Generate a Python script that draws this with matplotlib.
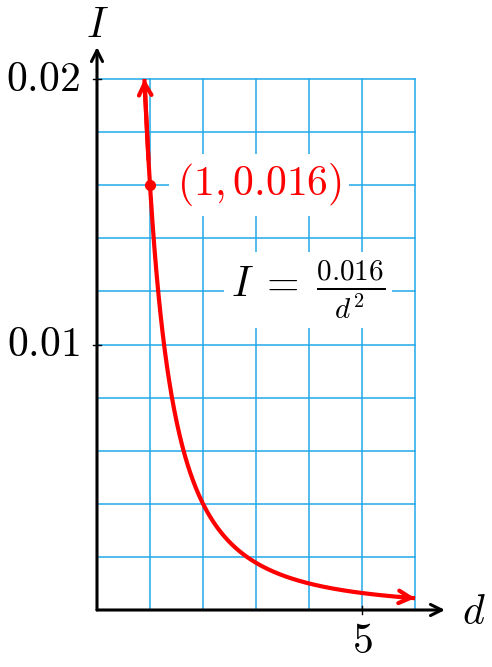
import numpy as np
import matplotlib
matplotlib.use("Agg")
import matplotlib.pyplot as plt

plt.rcParams['mathtext.fontset'] = 'cm'
plt.rcParams['font.family'] = ['DejaVu Serif']

# Data
k = 0.016
d_min = np.sqrt(k / 0.02)
d_max = 6
point_d = [1]
point_I = [0.016]
x_ticks = [5]
x_tick_labels = ['$5$']
y_ticks = [0.01, 0.02]
y_tick_labels = ['$0.01$', '$0.02$']
grid_x = [1, 2, 3, 4, 5, 6]
grid_y = [0.002 * i for i in range(1, 11)]

W, H = 492, 667
fig = plt.figure(figsize=(W / 100, H / 100), dpi=100)
ax = fig.add_axes([0, 0, 1, 1])
ax.set_axis_off()

def px2d(px):
    return (px - 97) / 53.0

def py2I(py):
    return (610 - py) / 26550.0

ax.set_xlim(px2d(0), px2d(W))
ax.set_ylim(py2I(H), py2I(0))

grid_c = '#22a8ea'
for gx in grid_x:
    ax.plot([gx, gx], [0, 0.02], color=grid_c, lw=1.1, zorder=1)
for gy in grid_y:
    ax.plot([0, 6], [gy, gy], color=grid_c, lw=1.1, zorder=1)

ax_ap = dict(arrowstyle='->,head_length=0.8,head_width=0.4', lw=2.2, color='black',
             shrinkA=0, shrinkB=0)
ax.annotate('', xy=(px2d(445), 0), xytext=(0, 0), arrowprops=ax_ap, zorder=3)
ax.annotate('', xy=(0, py2I(47)), xytext=(0, 0), arrowprops=ax_ap, zorder=3)

fs = 30
tick_len_d = 4 / 53.0
tick_len_I = 4 / 26550.0
for t, lab in zip(x_ticks, x_tick_labels):
    ax.plot([t, t], [-tick_len_I, tick_len_I], color='black', lw=1.0, zorder=3)
    ax.text(t, py2I(641), lab, ha='center', va='center', fontsize=fs)
for t, lab in zip(y_ticks, y_tick_labels):
    ax.plot([-tick_len_d, tick_len_d], [t, t], color='black', lw=1.0, zorder=3)
    ax.text(px2d(80), t, lab, ha='right', va='center', fontsize=fs)

ax.text(px2d(97), py2I(4), '$I$', ha='center', va='top', fontsize=fs)
ax.text(px2d(474), py2I(612), '$d$', ha='center', va='center', fontsize=fs)

# curve
d = np.linspace(d_min, d_max, 400)
I = k / d ** 2
ax.plot(d, I, color='red', lw=3.0, zorder=4, solid_capstyle='butt')
ap = dict(arrowstyle='->,head_length=0.85,head_width=0.45', lw=3.0, color='red', shrinkA=0, shrinkB=0)
ax.annotate('', xy=(d[0], I[0]), xytext=(d[6], I[6]), arrowprops=ap, zorder=4)
ax.annotate('', xy=(d[-1], I[-1]), xytext=(d[-25], I[-25]), arrowprops=ap, zorder=4)

ax.plot(point_d, point_I, 'o', color='red', ms=7, zorder=5)

bbox = dict(facecolor='white', edgecolor='none', pad=5)
ax.text(px2d(259), py2I(185), r'$(1,0.016)$', color='red', ha='center', va='center',
        fontsize=fs, bbox=bbox, zorder=5)
ax.text(px2d(308), py2I(290), r'$I\;=\;\frac{0.016}{d^2}$', color='black', ha='center', va='center',
        fontsize=fs, bbox=bbox, zorder=5)

fig.savefig('out.png', dpi=100)
